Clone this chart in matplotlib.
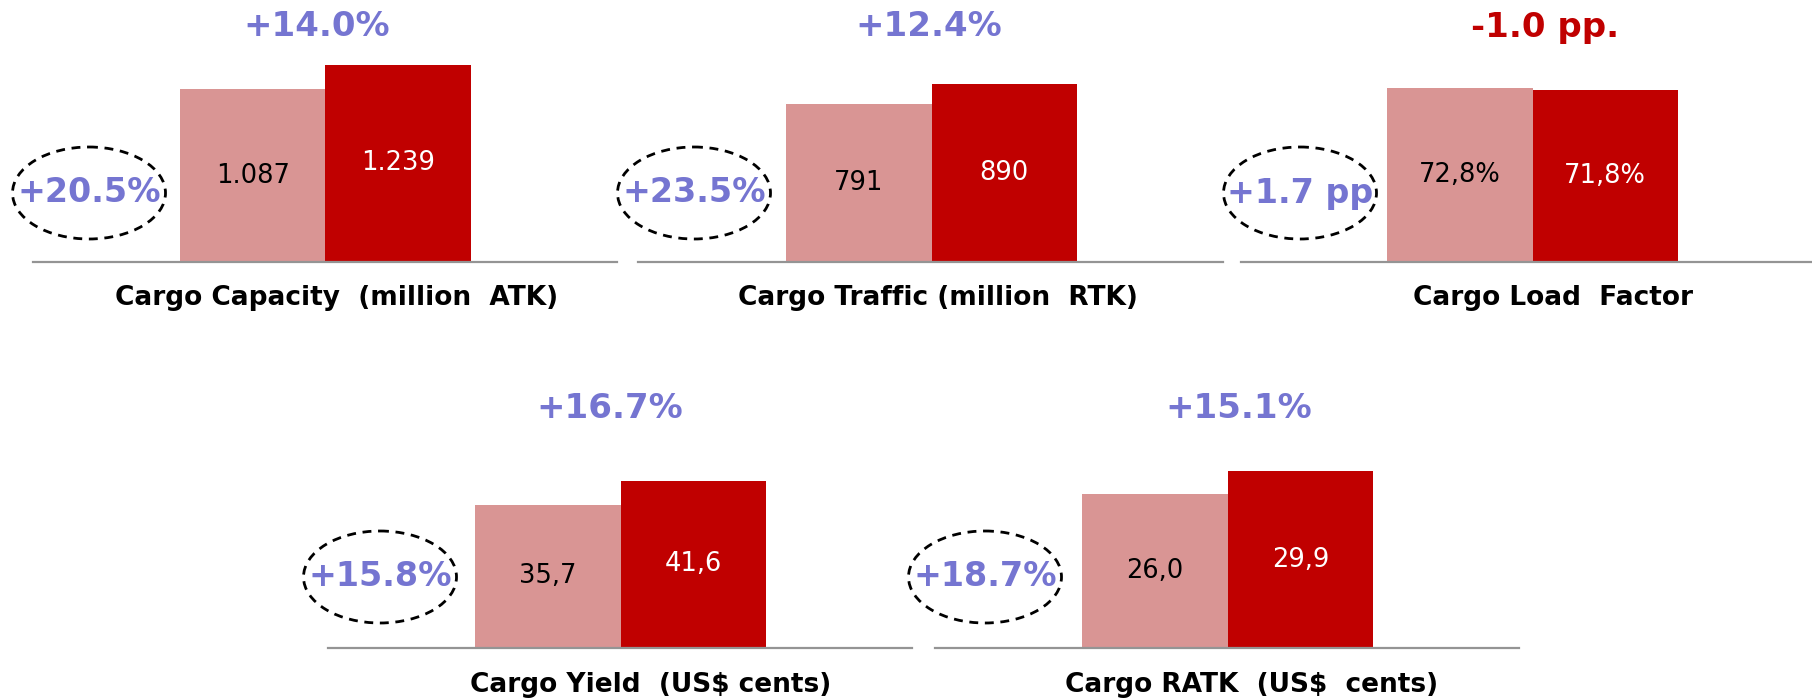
import matplotlib
matplotlib.use('Agg')
import matplotlib.pyplot as plt
from matplotlib.patches import Ellipse

plt.rcParams['font.family'] = ['DejaVu Sans']

# data
titles = ['Cargo Capacity  (million  ATK)', 'Cargo Traffic (million  RTK)', 'Cargo Load  Factor',
          'Cargo Yield  (US$ cents)', 'Cargo RATK  (US$  cents)']
prev_values = [1087, 791, 72.8, 35.7, 26.0]
curr_values = [1239, 890, 71.8, 41.6, 29.9]
prev_labels = ['1.087', '791', '72,8%', '35,7', '26,0']
curr_labels = ['1.239', '890', '71,8%', '41,6', '29,9']
growth_labels = ['+14.0%', '+12.4%', '-1.0 pp.', '+16.7%', '+15.1%']
ellipse_labels = ['+20.5%', '+23.5%', '+1.7 pp', '+15.8%', '+18.7%']

# colours
light = '#D99594'
dark = '#C00000'
violet = '#7575D1'
growth_colors = [violet, violet, dark, violet, violet]

W, H = 1812, 700
# layout in pixels
line_x = [(33, 617), (638, 1223), (1241, 1812), (328, 912), (935, 1519)]
base_y = [262, 262, 262, 648, 648]
ax_top = [0, 0, 0, 350, 350]
bar_left = [180, 786, 1387, 475, 1082]
bar_w = 145.5
dark_h = [197, 178, 172, 167, 177]
growth_xy = [(317, 27), (929, 27), (1545, 27), (610, 408), (1239, 408)]
ell_xy = [(89, 193), (694, 193), (1300, 193), (380, 577), (985, 577)]
title_xy = [(337, 298), (938, 298), (1553, 298), (651, 685), (1252, 685)]

fig = plt.figure(figsize=(W / 100, H / 100), dpi=100)

for i in range(5):
    x0, x1 = line_x[i]
    ax = fig.add_axes([x0 / W, 1 - base_y[i] / H, (x1 - x0) / W, (base_y[i] - ax_top[i]) / H])
    vals = [prev_values[i], curr_values[i]]
    ax.bar([0, 1], vals, width=1.0, color=[light, dark], zorder=2)
    left = -0.5 - (bar_left[i] - x0) / bar_w
    right = -0.5 + (x1 - bar_left[i]) / bar_w
    ax.set_xlim(left, right)
    ax.set_ylim(0, curr_values[i] * (base_y[i] - ax_top[i]) / dark_h[i])
    ax.axhline(0, color='#949494', lw=1.6, clip_on=False, zorder=3)
    ax.text(0, prev_values[i] / 2, prev_labels[i], ha='center', va='center',
            fontsize=18.5, color='black', zorder=4)
    ax.text(1, curr_values[i] / 2, curr_labels[i], ha='center', va='center',
            fontsize=18.5, color='white', zorder=4)
    ax.axis('off')

# overlay in pixel coordinates for annotations
ov = fig.add_axes([0, 0, 1, 1])
ov.set_xlim(0, W)
ov.set_ylim(H, 0)
ov.axis('off')
ov.patch.set_visible(False)

for i in range(5):
    gx, gy = growth_xy[i]
    ov.text(gx, gy, growth_labels[i], ha='center', va='center', fontsize=24.5,
            fontweight='bold', color=growth_colors[i])
    ex, ey = ell_xy[i]
    ov.add_patch(Ellipse((ex, ey), 153, 92, fill=False, edgecolor='black', lw=2.0,
                         linestyle=(0, (3.2, 2.4))))
    ov.text(ex, ey, ellipse_labels[i], ha='center', va='center', fontsize=24,
            fontweight='bold', color=violet)
    tx, ty = title_xy[i]
    ov.text(tx, ty, titles[i], ha='center', va='center', fontsize=19,
            fontweight='bold', color='black')

fig.savefig('out.png', dpi=100)
